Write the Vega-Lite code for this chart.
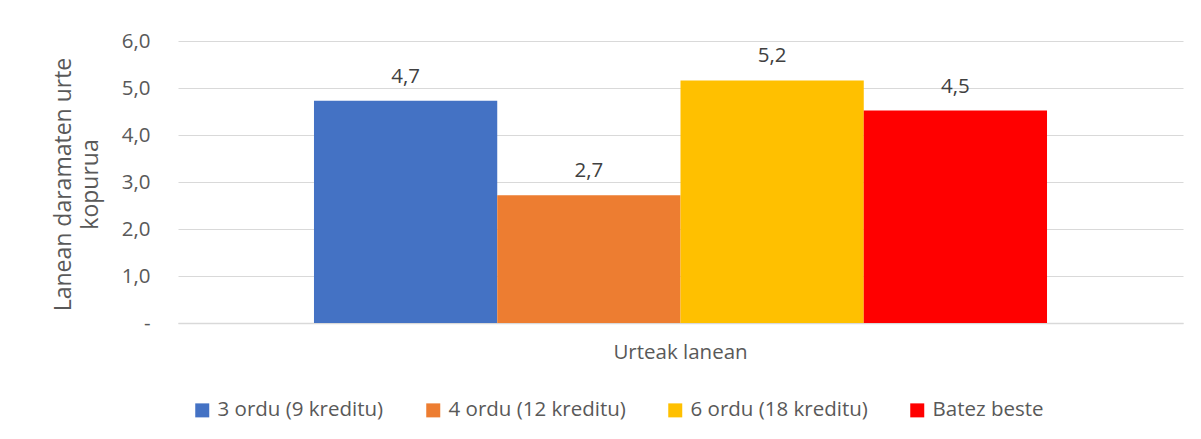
{
  "$schema": "https://vega.github.io/schema/vega-lite/v6.json",
  "width": 1005,
  "height": 282,
  "autosize": {"type": "none"},
  "padding": {"left": 178, "top": 41, "right": 18, "bottom": 116},
  "background": "white",
  "config": {
    "locale": {"number": {"decimal": ",", "thousands": ".", "grouping": [3], "currency": ["", " €"]}},
    "font": "Open Sans",
    "view": {"stroke": null}
  },
  "data": {
    "values": [
      {"cat": "Urteak lanean", "series": "3 ordu (9 kreditu)", "value": 4.73},
      {"cat": "Urteak lanean", "series": "4 ordu (12 kreditu)", "value": 2.72},
      {"cat": "Urteak lanean", "series": "6 ordu (18 kreditu)", "value": 5.16},
      {"cat": "Urteak lanean", "series": "Batez beste", "value": 4.52}
    ]
  },
  "encoding": {
    "x": {
      "field": "cat", "type": "nominal",
      "scale": {"paddingInner": 0, "paddingOuter": 0.1855},
      "axis": {"title": null, "labelAngle": 0, "labelFont": "Open Sans", "labelFontSize": 20.5, "labelColor": "#595959", "labelPadding": 19, "ticks": false, "domainColor": "#d9d9d9", "domainWidth": 1.5}
    },
    "xOffset": {
      "field": "series", "type": "nominal",
      "sort": ["3 ordu (9 kreditu)", "4 ordu (12 kreditu)", "6 ordu (18 kreditu)", "Batez beste"],
      "scale": {"paddingInner": 0, "paddingOuter": 0}
    },
    "y": {
      "field": "value", "type": "quantitative",
      "scale": {"domain": [0, 6], "nice": false},
      "axis": {
        "title": ["Lanean daramaten urte", "kopurua"],
        "titleFont": "Open Sans", "titleFontSize": 23, "titleFontWeight": "normal", "titleColor": "#595959", "titleLineHeight": 27, "titleLimit": 400,
        "titleX": -108, "titleY": 143, "titleAngle": 270, "titleAlign": "center", "titleBaseline": "alphabetic",
        "values": [0, 1, 2, 3, 4, 5, 6], "format": ".1f",
        "labelExpr": "datum.value == 0 ? '-' : datum.label",
        "labelFont": "Open Sans", "labelFontSize": 20.5, "labelColor": "#595959", "labelPadding": 28,
        "domain": false, "ticks": false, "gridColor": "#d9d9d9", "gridWidth": 1.2
      }
    }
  },
  "layer": [
    {
      "mark": {"type": "bar"},
      "encoding": {
        "color": {
          "field": "series", "type": "nominal",
          "sort": ["3 ordu (9 kreditu)", "4 ordu (12 kreditu)", "6 ordu (18 kreditu)", "Batez beste"],
          "scale": {"domain": ["3 ordu (9 kreditu)", "4 ordu (12 kreditu)", "6 ordu (18 kreditu)", "Batez beste"], "range": ["#4472C4", "#ED7D31", "#FFC000", "#FF0000"]},
          "legend": {
            "title": null, "orient": "none", "direction": "horizontal", "legendX": 14, "legendY": 359,
            "symbolType": "square", "symbolSize": 196, "symbolStrokeWidth": 0, "symbolOpacity": 1,
            "labelFont": "Open Sans", "labelFontSize": 20.5, "labelColor": "#595959", "labelLimit": 400, "columnPadding": 39, "labelOffset": 5
          }
        }
      }
    },
    {
      "mark": {"type": "text", "baseline": "alphabetic", "dy": -18, "font": "Open Sans", "fontSize": 20.5, "color": "#404040"},
      "encoding": {"text": {"field": "value", "type": "quantitative", "format": ".1f"}}
    }
  ]
}
